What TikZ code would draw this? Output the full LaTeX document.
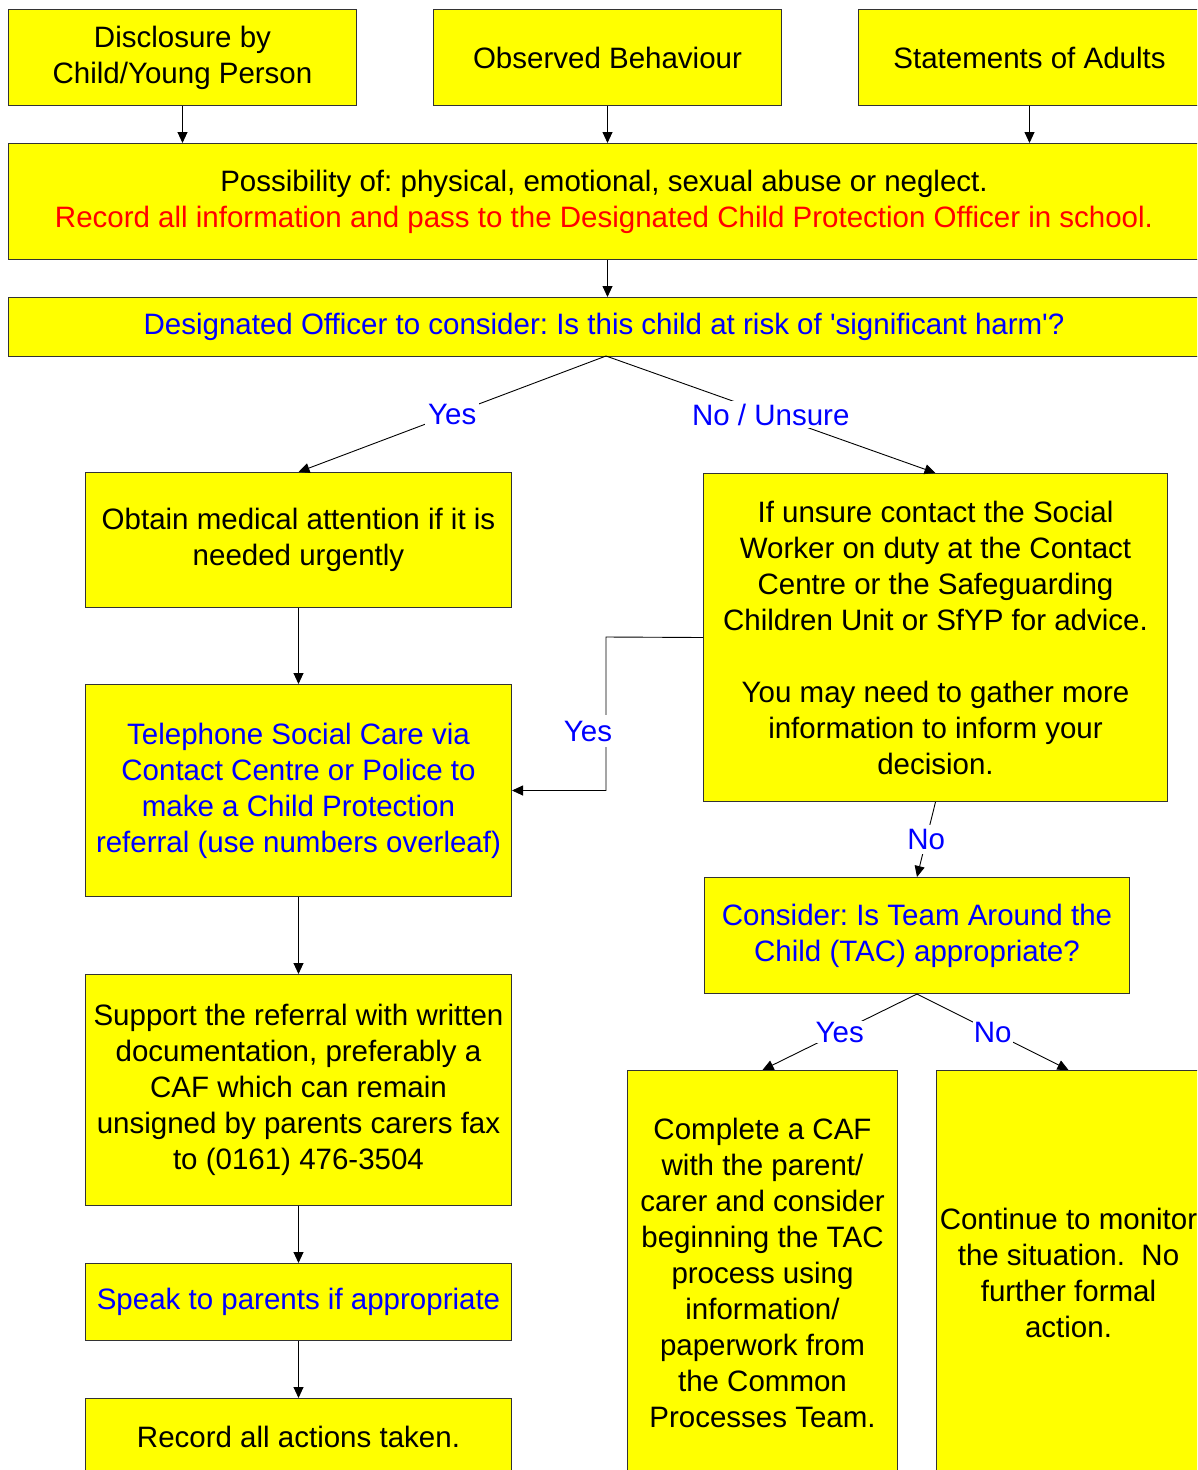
\documentclass[tikz,border=0pt]{standalone}
\usepackage{fontspec}
\setmainfont{Liberation Sans}
\usetikzlibrary{arrows.meta}
\definecolor{boxyellow}{HTML}{FFFF00}
\definecolor{txtblue}{HTML}{0000FF}
\definecolor{txtred}{HTML}{FF0000}
\definecolor{edge}{HTML}{333333}
\frenchspacing
\tikzset{
  box/.style={draw=edge, line width=1pt, fill=boxyellow, anchor=north west,
    inner sep=0pt, align=center, font=\fontsize{29.5}{36}\selectfont},
  arr/.style={draw=black, line width=0.9pt, -{Triangle[length=11pt,width=10pt]}},
  conn/.style={draw=black, line width=0.9pt},
  lbl/.style={fill=white, text=txtblue, inner sep=3pt, font=\fontsize{29.5}{36}\selectfont},
}
\begin{document}
\begin{tikzpicture}[x=1pt,y=-1pt]
\useasboundingbox (0,0) rectangle (1197,1470);
\clip (0,0) rectangle (1197,1470);
\fill[white] (0,0) rectangle (1197,1470);
% top row
\node[box, minimum width=348pt, minimum height=96pt] (b1) at (8,9) {Disclosure by\\Child/Young Person};
\node[box, minimum width=348pt, minimum height=96pt] (b2) at (433,9) {Observed Behaviour};
\node[box, minimum width=342pt, minimum height=96pt] (b3) at (858,9) {Statements of Adults};
% possibility
\node[box, minimum width=1191pt, minimum height=116pt] (b4) at (8,143) {Possibility of: physical, emotional, sexual abuse or neglect.\\\textcolor{txtred}{Record all information and pass to the Designated Child Protection Officer in school.}};
% designated officer
\node[box, minimum width=1191pt, minimum height=59pt, text=txtblue] (b5) at (8,297) {Designated Officer to consider: Is this child at risk of \textquotesingle significant harm\textquotesingle?};
% left column
\node[box, minimum width=426pt, minimum height=135pt] (b6) at (85,472) {Obtain medical attention if it is\\needed urgently};
\node[box, minimum width=426pt, minimum height=212pt, text=txtblue] (b8) at (85,684) {Telephone Social Care via\\Contact Centre or Police to\\make a Child Protection\\referral (use numbers overleaf)};
\node[box, minimum width=426pt, minimum height=231pt] (b10) at (85,974) {Support the referral with written\\documentation, preferably a\\CAF which can remain\\unsigned by parents carers fax\\to (0161) 476-3504};
\node[box, minimum width=426pt, minimum height=77pt, text=txtblue] (b11) at (85,1263) {Speak to parents if appropriate};
\node[box, minimum width=426pt, minimum height=76pt] (b12) at (85,1398) {Record all actions taken.};
% right column
\node[box, minimum width=464pt, minimum height=328pt] (b7) at (703,473) {If unsure contact the Social\\Worker on duty at the Contact\\Centre or the Safeguarding\\Children Unit or SfYP for advice.\\[36pt]You may need to gather more\\information to inform your\\decision.};
\node[box, minimum width=425pt, minimum height=116pt, text=txtblue] (b9) at (704,877) {Consider: Is Team Around the\\Child (TAC) appropriate?};
\node[box, minimum width=270pt, minimum height=404pt] (b13) at (627,1070) {Complete a CAF\\with the parent/\\carer and consider\\beginning the TAC\\process using\\information/\\paperwork from\\the Common\\Processes Team.};
\node[box, minimum width=264pt, minimum height=404pt] (b14) at (936,1070) {Continue to monitor\\the situation.\ \ No\\further formal\\action.};
% connectors
\draw[arr] (b1.south) -- (b1.south |- b4.north);
\draw[arr] (b2.south) -- (b2.south |- b4.north);
\draw[arr] (b3.south) -- (b3.south |- b4.north);
\draw[arr] (b2.south |- b4.south) -- (b2.south |- b5.north);
\coordinate (b5out) at (606,356);
\draw[arr] (b5out) -- node[lbl]{Yes} (b6.north);
\draw[arr] (b5out) -- node[lbl]{No / Unsure} (b7.north);
\draw[arr] (b6.south) -- (b8.north);
\draw[arr] (b8.south) -- (b10.north);
\draw[arr] (b10.south) -- (b11.north);
\draw[arr] (b11.south) -- (b12.north);
\coordinate (elb) at (606,637);
\draw[arr] (b7.west) -- (elb) |- (b8.east);
\node[lbl, inner xsep=1pt, inner ysep=6pt] (yeslbl) at (588,731) {Yes};
\draw[arr] (b7.south) -- node[lbl, inner ysep=4pt]{No} (b9.north);
\draw[arr] (b9.south) -- node[lbl, inner sep=1pt]{Yes} (b13.north);
\draw[arr] (b9.south) -- node[lbl, inner sep=1pt]{No} (b14.north);
\end{tikzpicture}
\end{document}
